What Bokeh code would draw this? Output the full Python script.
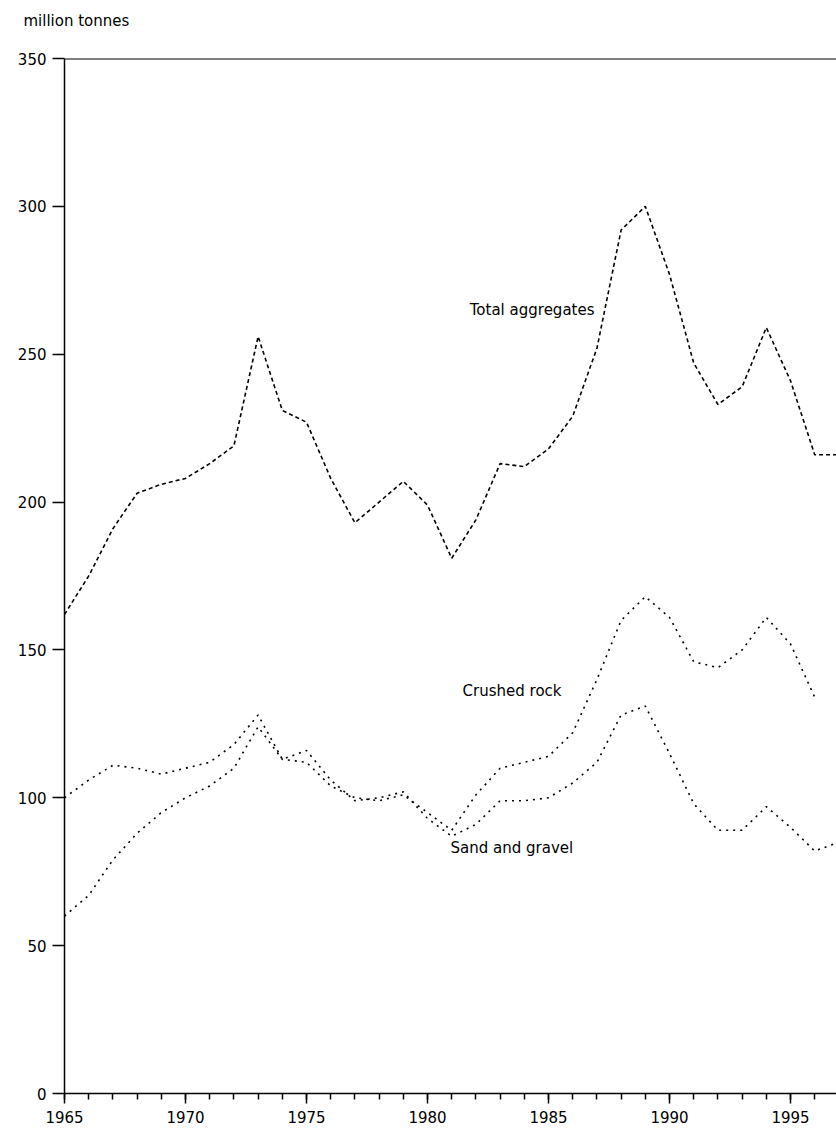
from bokeh.plotting import figure
from bokeh.models import Span, Label, FixedTicker, Range1d, Title
from bokeh.embed import file_html
from bokeh.resources import INLINE

# ---- data (million tonnes) ----
years = list(range(1965, 1998))
total_aggregates = [162, 175, 191, 203, 206, 208, 213, 219, 256, 231, 227, 208, 193, 200,
                    207, 199, 181, 194, 213, 212, 218, 229, 252, 292, 300, 277, 247, 233,
                    239, 259, 241, 216, 216]
crushed_rock = [60, 67, 79, 88, 95, 100, 104, 110, 124, 113, 112, 104, 100, 99, 101, 95,
                89, 101, 110, 112, 114, 122, 140, 160, 168, 161, 146, 144, 150, 161, 152, 134]
sand_gravel = [100, 106, 111, 110, 108, 110, 112, 118, 128, 113, 116, 106, 99, 100, 102, 93,
               87, 91, 99, 99, 100, 105, 112, 128, 131, 115, 98, 89, 89, 97, 90, 82, 85]
x_ticks = [1965, 1970, 1975, 1980, 1985, 1990, 1995]
y_ticks = [0, 50, 100, 150, 200, 250, 300, 350]
unit_label = "million tonnes"

FONT = "DejaVu Sans"

p = figure(width=836, height=1128, output_backend="svg", toolbar_location=None,
           x_range=Range1d(1965, 1996.9), y_range=Range1d(0, 350),
           min_border_left=64, min_border_right=0, min_border_top=58, min_border_bottom=35)
p.outline_line_color = None
p.grid.visible = False
p.background_fill_color = "white"
p.border_fill_color = "white"

# spacer title (nearest to frame), then the unit title above it
p.add_layout(Title(text=" ", text_font=FONT, text_font_size="15px", standoff=9), "above")
p.add_layout(Title(text=unit_label, text_font=FONT, text_font_size="15px",
                   text_font_style="normal", text_color="black", align="left",
                   offset=-41, standoff=0), "above")

# axes
p.xaxis.ticker = FixedTicker(ticks=x_ticks, minor_ticks=years)
p.yaxis.ticker = FixedTicker(ticks=y_ticks, minor_ticks=[])
for ax in (p.xaxis, p.yaxis):
    ax.axis_line_color = "black"
    ax.axis_line_width = 1.5
    ax.major_tick_line_color = "black"
    ax.major_tick_line_width = 1.5
    ax.minor_tick_line_color = "black"
    ax.minor_tick_line_width = 1.5
    ax.major_tick_in = 0
    ax.minor_tick_in = 0
    ax.major_label_text_font = FONT
    ax.major_label_text_font_size = "15px"
    ax.major_label_text_color = "black"
p.xaxis.major_tick_out = 10
p.xaxis.minor_tick_out = 6
p.xaxis.major_label_standoff = 7
p.yaxis.major_tick_out = 12
p.yaxis.minor_tick_out = 0
p.yaxis.major_label_standoff = 6

# top rule at 350
p.add_layout(Span(location=350, dimension="width", line_color="black", line_width=2))

# series
p.line(years, total_aggregates, line_color="black", line_width=1.6, line_dash="4 3")
p.line(years[:len(crushed_rock)], crushed_rock, line_color="black", line_width=1.6,
       line_dash="2 5")
p.line(years[:len(sand_gravel)], sand_gravel, line_color="black", line_width=1.6,
       line_dash="2 5")

# series labels
lab_kw = dict(text_font=FONT, text_font_size="15px", text_color="black",
              text_baseline="middle")
p.add_layout(Label(x=1986.9, y=265, text="Total aggregates", text_align="right", **lab_kw))
p.add_layout(Label(x=1981.45, y=136, text="Crushed rock", text_align="left", **lab_kw))
p.add_layout(Label(x=1980.95, y=83, text="Sand and gravel", text_align="left", **lab_kw))

open("out.html", "w").write(file_html(p, INLINE))
